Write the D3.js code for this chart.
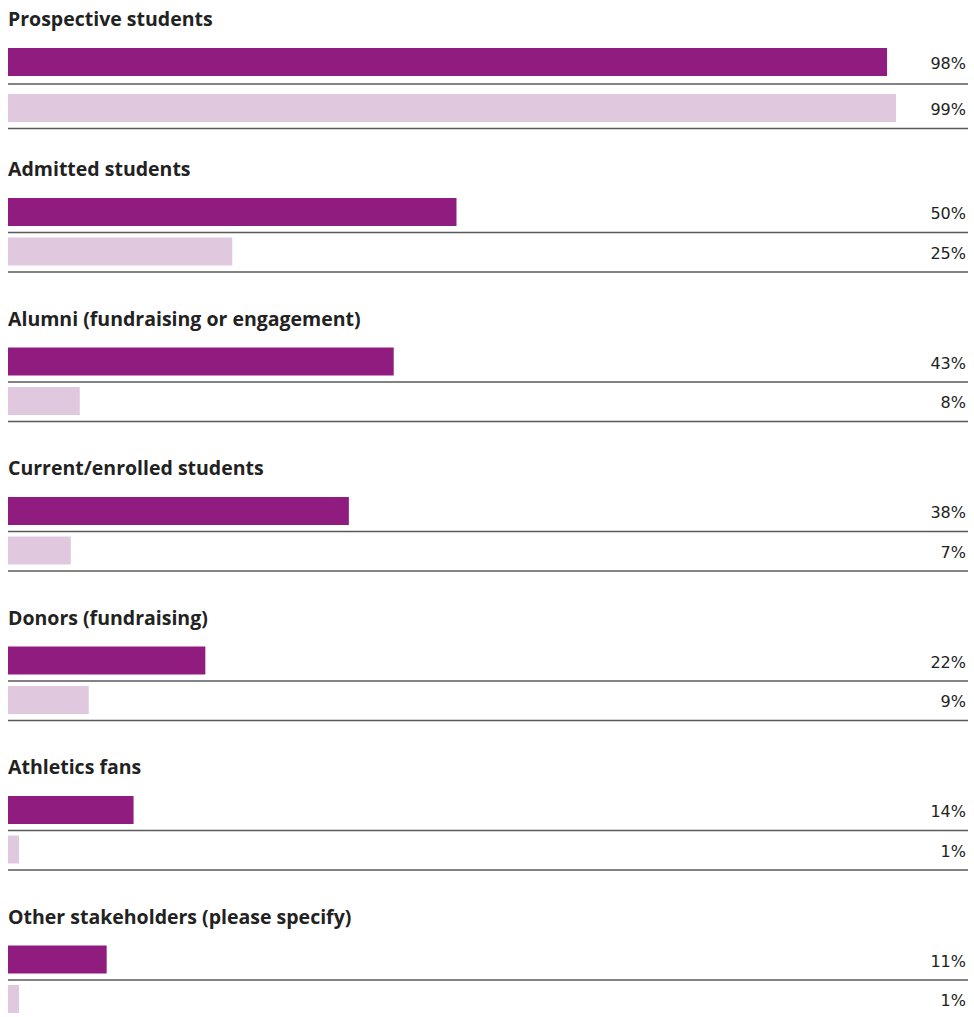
<!DOCTYPE html>
<html>
<head>
  <meta charset="utf-8">
  <title>Audiences</title>
  <script src="https://d3js.org/d3.v7.min.js"></script>
  <style>
    body { margin: 0; background: #fff; }
  </style>
</head>
<body>
  <div id="chart"></div>
  <script>
    // data
    var categories = [
      "Prospective students",
      "Admitted students",
      "Alumni (fundraising or engagement)",
      "Current/enrolled students",
      "Donors (fundraising)",
      "Athletics fans",
      "Other stakeholders (please specify)"
    ];
    var seriesA = [98, 50, 43, 38, 22, 14, 11];
    var seriesB = [99, 25, 8, 7, 9, 1, 1];

    var width = 974, height = 1017;
    var colorA = "#901c80", colorB = "#e0c9df";

    var svg = d3.select("#chart")
      .append("svg")
        .attr("width", width)
        .attr("height", height);

    // horizontal value scale
    var x = d3.scaleLinear()
      .domain([0, 100])
      .range([8, 905]);

    // group positions
    var g = d3.scaleLinear()
      .domain([0, categories.length - 1])
      .range([48.5, 48.5 + 149.5 * (categories.length - 1)]);

    var barH = 28;
    var rows = [];
    categories.forEach(function(c, i) {
      var top = i === 0 ? 48 : g(i);
      var gap = i === 0 ? 46 : 39.5;   // first group sits a bit looser
      rows.push({ cat: c, i: i, v: seriesA[i], y: top, rule: i === 0 ? 8 : 6.5, color: colorA });
      rows.push({ cat: c, i: i, v: seriesB[i], y: top + gap, rule: 6.5, color: colorB });
    });

    // group titles
    svg.selectAll(".title")
      .data(categories)
      .enter()
      .append("text")
        .attr("class", "title")
        .attr("x", 8)
        .attr("y", function(d, i) { return (i === 0 ? 48 : g(i)) - 22; })
        .style("font-family", "'Open Sans', 'Noto Sans', sans-serif")
        .style("font-weight", "700")
        .style("font-size", "19.5px")
        .style("fill", "#222")
        .text(function(d) { return d; });

    // bars
    svg.selectAll(".bar")
      .data(rows)
      .enter()
      .append("rect")
        .attr("class", "bar")
        .attr("x", x(0))
        .attr("y", function(d) { return d.y; })
        .attr("width", function(d) { return Math.max(x(d.v) - x(0), 11); })
        .attr("height", barH)
        .style("fill", function(d) { return d.color; });

    // rule under each bar
    svg.selectAll(".rule")
      .data(rows)
      .enter()
      .append("line")
        .attr("class", "rule")
        .attr("x1", 8)
        .attr("x2", 968)
        .attr("y1", function(d) { return d.y + barH + d.rule; })
        .attr("y2", function(d) { return d.y + barH + d.rule; })
        .style("stroke", "#5a5a5a")
        .style("stroke-width", 1.5);

    // value labels
    svg.selectAll(".val")
      .data(rows)
      .enter()
      .append("text")
        .attr("class", "val")
        .attr("x", 966)
        .attr("y", function(d) { return d.y + barH / 2 + 7; })
        .attr("text-anchor", "end")
        .style("font-family", "'DejaVu Sans', sans-serif")
        .style("font-size", "16px")
        .style("fill", "#222")
        .text(function(d) { return d.v + "%"; });
  </script>
</body>
</html>
